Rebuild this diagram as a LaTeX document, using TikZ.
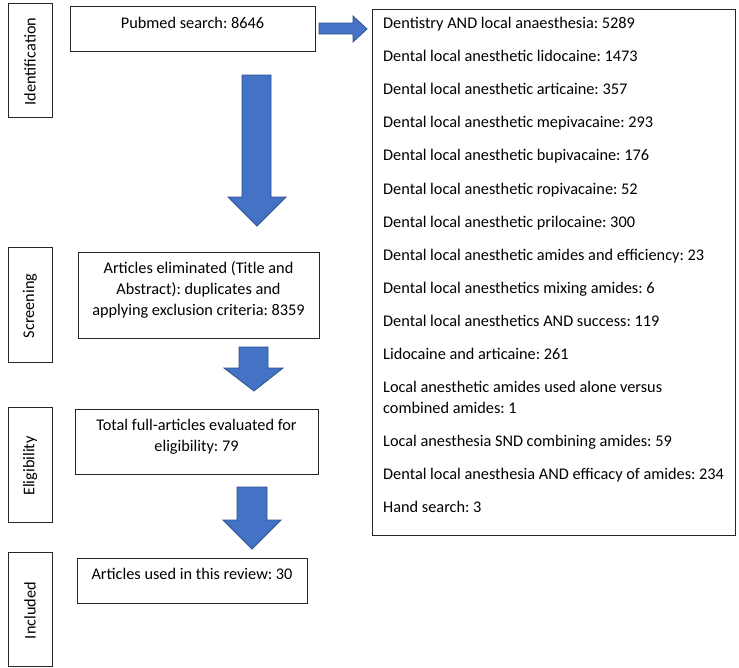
\documentclass[tikz,border=0pt]{standalone}
\usepackage{fontspec}
\setmainfont{Carlito}
\frenchspacing
\begin{document}
\begin{tikzpicture}[x=1pt,y=-1pt,
  box/.style={draw=black!85,line width=0.9pt,inner sep=0pt},
  txt/.style={font=\fontsize{16.3}{21}\selectfont,inner sep=0pt,align=center},
  lst/.style={font=\fontsize{16.3}{21}\selectfont,inner sep=0pt,anchor=base west},
  stage/.style={font=\fontsize{16.3}{21}\selectfont,inner sep=0pt,rotate=90}]
\useasboundingbox[fill=white] (0,0) rectangle (739,667);
\definecolor{arrowfill}{HTML}{4472C4}
\definecolor{arrowline}{HTML}{2F528F}
\tikzset{blk/.style={fill=arrowfill,draw=arrowline,line width=0.8pt,line join=miter}}
% stage labels
\draw[box] (8,3) rectangle (52,117) node[midway,stage,xshift=-1.5pt] (sid) {Identification};
\draw[box] (8,247) rectangle (52,362) node[midway,stage,xshift=-1.5pt] (ssc) {Screening};
\draw[box] (8,407) rectangle (52,522) node[midway,stage,xshift=-1.5pt] (sel) {Eligibility};
\draw[box] (8,552) rectangle (52,666) node[midway,stage,xshift=-1.5pt] (sin) {Included};
% main boxes
\draw[box] (70,6) rectangle (315,51);
\node[txt,anchor=base] (pub) at (192.5,28) {Pubmed search: 8646};
\draw[box] (78,252) rectangle (319,338);
\node[txt,anchor=base] (elim1) at (198.5,273) {Articles eliminated (Title and};
\node[txt,anchor=base] (elim2) at (198.5,294) {Abstract): duplicates and};
\node[txt,anchor=base] (elim3) at (198.5,315) {applying exclusion criteria: 8359};
\draw[box] (75,409) rectangle (318,474);
\node[txt,anchor=base] (elig1) at (196.5,430) {Total full-articles evaluated for};
\node[txt,anchor=base] (elig2) at (196.5,451) {eligibility: 79};
\draw[box] (77,558) rectangle (307,603);
\node[txt,anchor=base] (incl) at (192,579) {Articles used in this review: 30};
% right list box
\draw[box] (372,9) rectangle (735,535);
\foreach \yy/\t [count=\i] in {
 28.5/Dentistry AND local anaesthesia: 5289,
 61.6/Dental local anesthetic lidocaine: 1473,
 94.7/Dental local anesthetic articaine: 357,
 127.8/Dental local anesthetic mepivacaine: 293,
 160.9/Dental local anesthetic bupivacaine: 176,
 194.0/Dental local anesthetic ropivacaine: 52,
 227.1/Dental local anesthetic prilocaine: 300,
 260.2/Dental local anesthetic amides and efficiency: 23,
 293.3/Dental local anesthetics mixing amides: 6,
 326.4/Dental local anesthetics AND success: 119,
 359.5/Lidocaine and articaine: 261,
 392.6/Local anesthetic amides used alone versus,
 413.6/combined amides: 1,
 446.7/Local anesthesia SND combining amides: 59,
 479.8/Dental local anesthesia AND efficacy of amides: 234,
 512.9/Hand search: 3}
 \node[lst] (item\i) at (383,\yy) {\t};
% block arrows
\draw[blk] (319,23) -- (353,23) -- (353,16) -- (367,29) -- (353,42) -- (353,34) -- (319,34) -- cycle;
\draw[blk] (242,75) -- (271,75) -- (271,197) -- (286,197) -- (257,226) -- (228,197) -- (242,197) -- cycle;
\draw[blk] (239,347) -- (268,347) -- (268,368) -- (283,368) -- (254,391) -- (224,368) -- (239,368) -- cycle;
\draw[blk] (237,487) -- (267,487) -- (267,520) -- (281,520) -- (252,549) -- (223,520) -- (237,520) -- cycle;
\end{tikzpicture}
\end{document}
